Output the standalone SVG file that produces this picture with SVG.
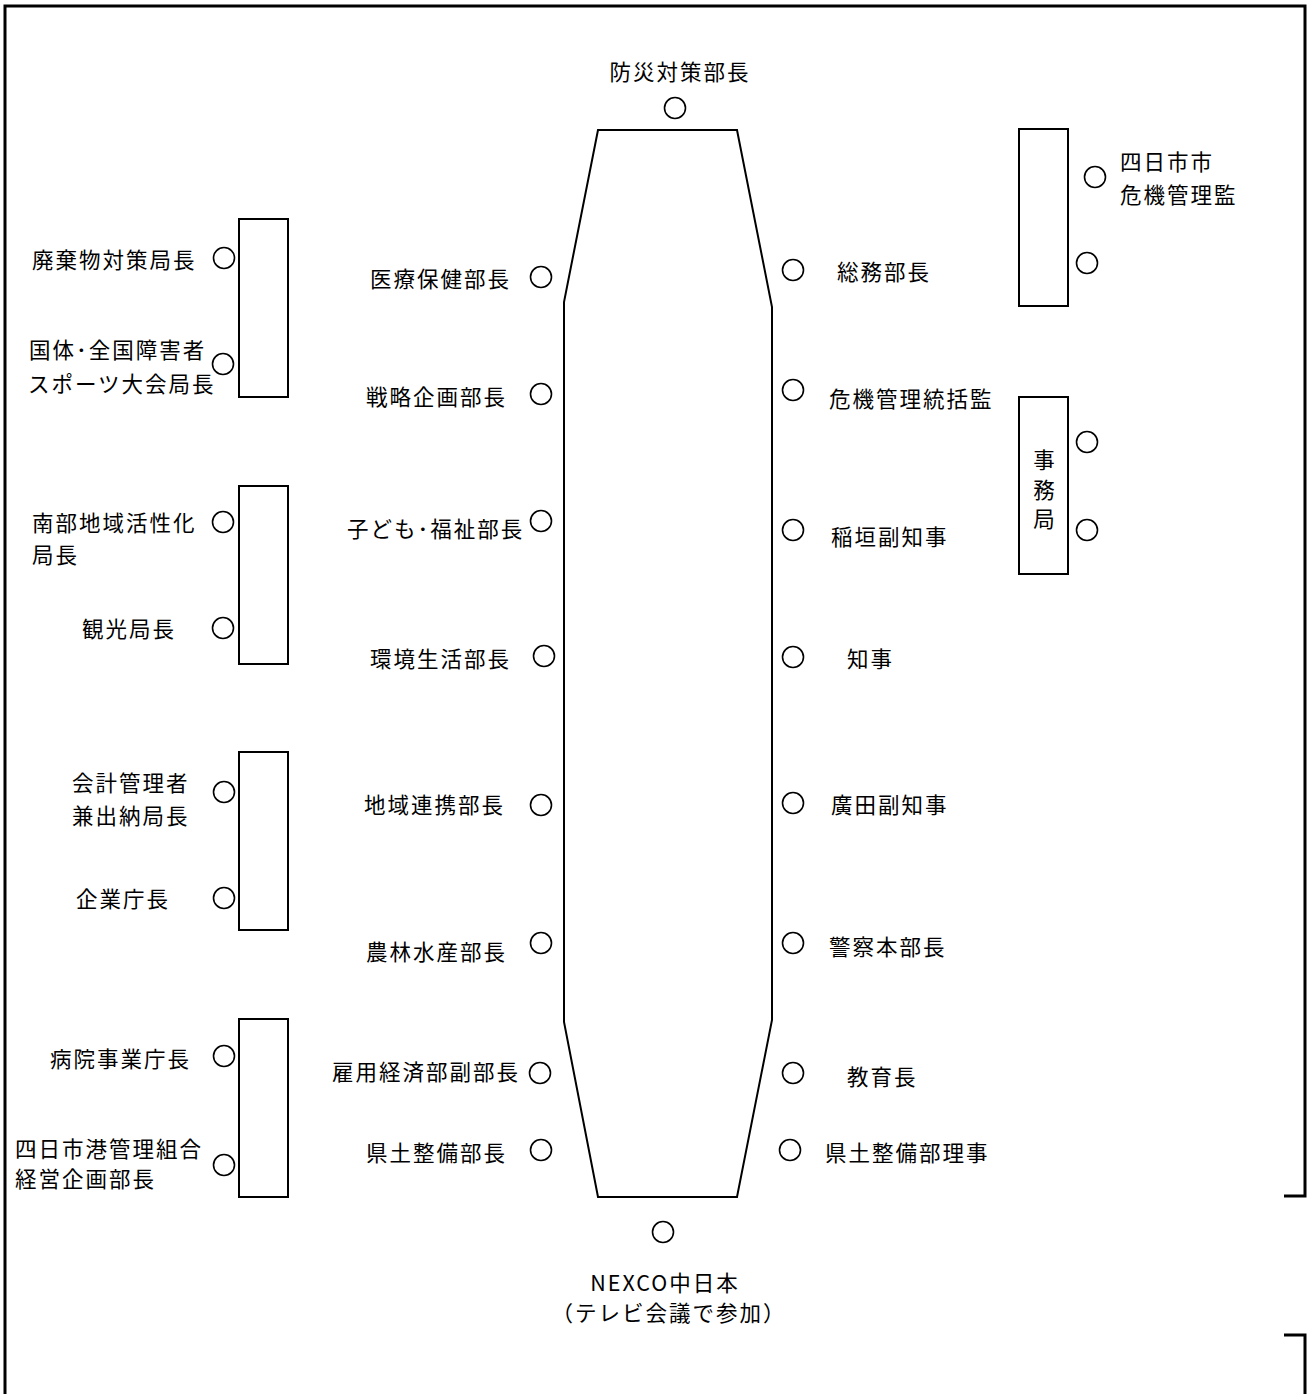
<svg xmlns="http://www.w3.org/2000/svg" width="1308" height="1394" viewBox="0 0 1308 1394">
<style>
text{font-family:"Noto Sans CJK JP","Noto Sans",sans-serif;font-size:21.5px;letter-spacing:2px;fill:#000;dominant-baseline:central}
.c{fill:none;stroke:#000;stroke-width:1.6}
.b{fill:none;stroke:#000;stroke-width:2}
.f{fill:none;stroke:#000;stroke-width:3}
.m{text-anchor:middle}
</style>
<rect width="1308" height="1394" fill="#fff"/>
<g id="frame">
<path class="f" d="M5,1394 V6 H1305 V1196 H1284"/>
<path class="f" d="M1284,1335 H1305 V1394"/>
</g>
<g id="table">
<path class="b" d="M598,130 H737 L772,307 V1020 L737,1197 H598 L564,1022 V302 Z"/>
</g>
<g id="connectors"></g>
<g id="top-head"><text class="m" x="680" y="70">防災対策部長</text><circle class="c" cx="675" cy="108" r="10.5"/></g>
<g id="nexco"><circle class="c" cx="663" cy="1232" r="10.5"/><text class="m" x="665" y="1281">NEXCO中日本</text><text class="m" x="669" y="1311">（テレビ会議で参加）</text></g>
<g id="l1"><text x="370" y="277">医療保健部長</text><circle class="c" cx="541" cy="277" r="10.5"/></g>
<g id="l2"><text x="366" y="395">戦略企画部長</text><circle class="c" cx="541" cy="394" r="10.5"/></g>
<g id="l3"><text x="347" y="527">子ども･福祉部長</text><circle class="c" cx="541" cy="521" r="10.5"/></g>
<g id="l4"><text x="370" y="657">環境生活部長</text><circle class="c" cx="544" cy="656" r="10.5"/></g>
<g id="l5"><text x="364" y="803">地域連携部長</text><circle class="c" cx="541" cy="805" r="10.5"/></g>
<g id="l6"><text x="366" y="950">農林水産部長</text><circle class="c" cx="541" cy="943" r="10.5"/></g>
<g id="l7"><text x="332" y="1070">雇用経済部副部長</text><circle class="c" cx="540" cy="1073" r="10.5"/></g>
<g id="l8"><text x="366" y="1151">県土整備部長</text><circle class="c" cx="541" cy="1150" r="10.5"/></g>
<g id="r1"><circle class="c" cx="793" cy="270" r="10.5"/><text x="837" y="270">総務部長</text></g>
<g id="r2"><circle class="c" cx="793" cy="390" r="10.5"/><text x="829" y="397">危機管理統括監</text></g>
<g id="r3"><circle class="c" cx="793" cy="530" r="10.5"/><text x="831" y="535">稲垣副知事</text></g>
<g id="r4"><circle class="c" cx="793" cy="657" r="10.5"/><text x="847" y="657">知事</text></g>
<g id="r5"><circle class="c" cx="793" cy="803" r="10.5"/><text x="831" y="803">廣田副知事</text></g>
<g id="r6"><circle class="c" cx="793" cy="943" r="10.5"/><text x="829" y="945">警察本部長</text></g>
<g id="r7"><circle class="c" cx="793" cy="1073" r="10.5"/><text x="847" y="1075">教育長</text></g>
<g id="r8"><circle class="c" cx="790" cy="1150" r="10.5"/><text x="825" y="1151">県土整備部理事</text></g>
<g id="box-yokkaichi">
<rect class="b" x="1019" y="129" width="49" height="177"/>
<circle class="c" cx="1095" cy="177" r="10.5"/><text x="1120" y="160">四日市市</text><text x="1120" y="193">危機管理監</text>
<circle class="c" cx="1087" cy="263" r="10.5"/>
</g>
<g id="box-jimukyoku">
<rect class="b" x="1019" y="397" width="49" height="177"/>
<text x="1044" y="458" class="m" style="letter-spacing:0">事</text><text x="1044" y="488" class="m" style="letter-spacing:0">務</text><text x="1044" y="517" class="m" style="letter-spacing:0">局</text>
<circle class="c" cx="1087" cy="442" r="10.5"/><circle class="c" cx="1087" cy="530" r="10.5"/>
</g>
<g id="box-a">
<rect class="b" x="239" y="219" width="49" height="178"/>
<text x="32" y="258">廃棄物対策局長</text><circle class="c" cx="224" cy="258" r="10.5"/>
<text x="29" y="348">国体･全国障害者</text><text x="28" y="382">スポーツ大会局長</text><circle class="c" cx="223" cy="364" r="10.5"/>
</g>
<g id="box-b">
<rect class="b" x="239" y="486" width="49" height="178"/>
<text x="32" y="521">南部地域活性化</text><text x="32" y="553">局長</text><circle class="c" cx="223" cy="522" r="10.5"/>
<text x="82" y="627">観光局長</text><circle class="c" cx="223" cy="628" r="10.5"/>
</g>
<g id="box-c">
<rect class="b" x="239" y="752" width="49" height="178"/>
<text x="72" y="781">会計管理者</text><text x="72" y="814">兼出納局長</text><circle class="c" cx="224" cy="792" r="10.5"/>
<text x="76" y="897">企業庁長</text><circle class="c" cx="224" cy="898" r="10.5"/>
</g>
<g id="box-d">
<rect class="b" x="239" y="1019" width="49" height="178"/>
<text x="50" y="1057">病院事業庁長</text><circle class="c" cx="224" cy="1056" r="10.5"/>
<text x="15" y="1147">四日市港管理組合</text><text x="15" y="1177">経営企画部長</text><circle class="c" cx="224" cy="1165" r="10.5"/>
</g>
</svg>
